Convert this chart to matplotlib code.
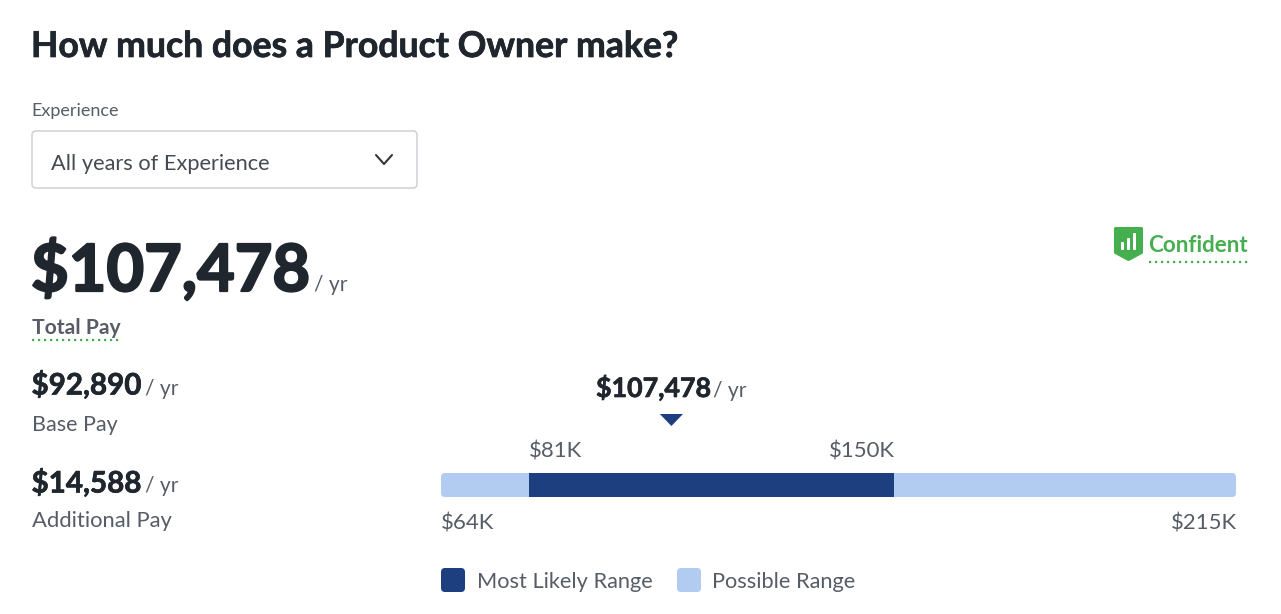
import matplotlib
matplotlib.use("Agg")
import matplotlib.pyplot as plt
import matplotlib.patheffects as pe
from matplotlib.patches import FancyBboxPatch, Polygon
from matplotlib.transforms import blended_transform_factory, Affine2D

plt.rcParams['font.family'] = ['Lato', 'Open Sans', 'DejaVu Sans']

title = "How much does a Product Owner make?"
total_pay = 107478
base_pay = 92890
additional_pay = 14588
possible_low, possible_high = 64, 215
likely_low, likely_high = 80.7, 150
legend_labels = ["Most Likely Range", "Possible Range"]

DARK = "#1d3f7f"
LIGHT = "#b2cbf1"
INK = "#20262d"
GREY = "#565d66"
GREEN = "#45ae4f"
W, H = 1281, 614
PX = 0.72  # points per pixel at dpi 100

fig = plt.figure(figsize=(W / 100, H / 100), dpi=100, facecolor="white")
ov = fig.add_axes([0, 0, 1, 1])
ov.set_xlim(0, W)
ov.set_ylim(H, 0)
ov.axis("off")


def txt(x, y, s, size, color=GREY, weight="normal", ha="left", stroke=0):
    t = ov.text(x, y, s, fontsize=size * PX, color=color, fontweight=weight,
                ha=ha, va="baseline")
    if stroke:
        t.set_path_effects([pe.withStroke(linewidth=stroke, foreground=color)])
    return t


def money(v):
    return f"${v:,}"


def rbox(x, y, w, h, r, **kw):
    p = FancyBboxPatch((x + r, y + r), w - 2 * r, h - 2 * r,
                       boxstyle=f"round,pad={r},rounding_size={r}", **kw)
    ov.add_patch(p)
    return p


# Header
txt(31, 57, title, 35.6, INK, "bold", stroke=0.5)
txt(31, 116, "Experience", 18)
rbox(32, 131, 385, 57, 4, fc="white", ec="#cfd1d5", lw=1.1)
txt(51, 170, "All years of Experience", 21.8, "#454b53")
ov.plot([376, 384, 392], [155, 164, 155], color="#30363d", lw=1.5,
        solid_capstyle="round", solid_joinstyle="round")

# Headline figures
txt(31, 291, money(total_pay), 65, INK, "bold", stroke=1.6)
txt(314, 291, "/ yr", 21)
txt(32, 334, "Total Pay", 21.2, GREY, "bold")
ov.plot([32, 121], [340, 340], color=GREEN, lw=1.6, ls=(0, (1, 1.7)))

txt(31.5, 394.5, money(base_pay), 29.6, INK, "bold", stroke=0.5)
txt(145, 395, "/ yr", 21)
txt(32, 431, "Base Pay", 21.5)
txt(31.5, 492.5, money(additional_pay), 29.6, INK, "bold", stroke=0.5)
txt(145, 492, "/ yr", 21)
txt(32, 527, "Additional Pay", 22)

# Confident badge
ov.add_patch(Polygon([(1115.5, 228.5), (1141.5, 228.5), (1141.5, 252.5), (1128.5, 259.5),
                      (1115.5, 252.5)], closed=True, fc=GREEN, ec=GREEN, lw=2.2, joinstyle="round"))
for x0, top in [(1121, 242), (1127, 238), (1133, 233)]:
    ov.add_patch(FancyBboxPatch((x0, top), 3, 250 - top, boxstyle="round,pad=0,rounding_size=1",
                                fc="white", ec="none"))
txt(1148, 252, "Confident", 22.4, GREEN, "bold")
ov.plot([1149, 1248], [262, 262], color=GREEN, lw=1.6, ls=(0, (1, 1.7)))

# Range bar, drawn on its own value axis
ax = fig.add_axes([441 / W, 1 - 497 / H, (1236 - 441) / W, 24 / H])
ax.set_xlim(possible_low, possible_high)
ax.set_ylim(0, 1)
ax.axis("off")
ax.patch.set_alpha(0)
ax.barh(0.5, likely_high - likely_low, left=likely_low, height=1, color=DARK, lw=0)
# pale bar with rounded ends, in pixel space, behind the value axis
rbox(441, 473, 795, 24, 4, fc=LIGHT, ec="none", zorder=0)

tr = blended_transform_factory(ax.transData, ov.transData)
for val, ha, y in [(likely_low, "left", 458),
                   (likely_high, "right", 458),
                   (possible_low, "left", 529),
                   (possible_high, "right", 529)]:
    nudge = 1 if ha == "right" else 0
    ov.text(val, y, f"${round(val)}K", fontsize=22.2 * PX, color=GREY, ha=ha, va="baseline",
            transform=tr + Affine2D().translate(nudge, 0))

tv = total_pay / 1000
ov.add_patch(Polygon([(tv, 426), (tv - 2.2, 414), (tv + 2.2, 414)], closed=True,
                     transform=tr + Affine2D().translate(1.5, 0), fc=DARK, ec="none"))
txt(596, 397, money(total_pay), 26.8, INK, "bold", stroke=0.5)
txt(713, 397, "/ yr", 21)

# Legend
rbox(441, 568, 24, 24, 4, fc=DARK, ec="none")
txt(477, 588, legend_labels[0], 21.8)
rbox(677, 568, 24, 24, 4, fc=LIGHT, ec="none")
txt(712, 588, legend_labels[1], 21.8)

fig.savefig("out.png", dpi=100, facecolor="white")
